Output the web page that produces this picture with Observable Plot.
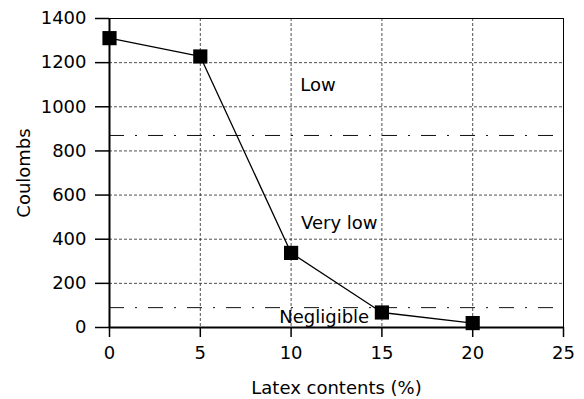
<!DOCTYPE html>
<html><head>
<meta charset="utf-8">
<script src="https://cdn.jsdelivr.net/npm/d3@7"></script>
<script src="https://cdn.jsdelivr.net/npm/@observablehq/plot@0.6"></script>
<style>
body{margin:0;background:#fff}
svg{font-family:"DejaVu Sans",sans-serif}
</style>
</head><body><div id="chart"></div>
<script>
const latex = [0, 5, 10, 15, 20];
const coulombs = [1311, 1228, 338, 68, 20];
const thresholds = [870, 90];
const zoneLabels = ["Low", "Very low", "Negligible"];
const zoneX = [10.5, 10.55, 9.35];
const zoneY = [1096, 472, 47];
const xTicks = [0, 5, 10, 15, 20, 25];
const yTicks = [0, 200, 400, 600, 800, 1000, 1200, 1400];

const pts = latex.map((x, i) => ({x, y: coulombs[i]}));
const zones = zoneLabels.map((t, i) => ({t, x: zoneX[i], y: zoneY[i]}));

const chart = Plot.plot({
  width: 584, height: 399,
  marginLeft: 109, marginRight: 21, marginTop: 18, marginBottom: 72,
  style: {fontSize: "18px", fontFamily: "DejaVu Sans, sans-serif", color: "#000", background: "#fff"},
  x: {domain: [0, 25]},
  y: {domain: [0, 1400]},
  marks: [
    Plot.gridX(xTicks, {stroke: "#222", strokeOpacity: 1, strokeWidth: 0.8, strokeDasharray: "3,2"}),
    Plot.gridY(yTicks, {stroke: "#222", strokeOpacity: 1, strokeWidth: 0.8, strokeDasharray: "3,2"}),
    Plot.ruleY(thresholds, {stroke: "#111", strokeWidth: 1, strokeDasharray: "15,11,2,11"}),
    Plot.frame({stroke: "#000", strokeWidth: 1}),
    Plot.ruleX([0], {stroke: "#000", strokeWidth: 2}),
    Plot.ruleY([0], {stroke: "#000", strokeWidth: 2}),
    Plot.axisX({ticks: xTicks, tickFormat: "d", tickSize: 10, tickPadding: 9, strokeWidth: 1.5, fontSize: 18,
      label: "Latex contents (%)", labelAnchor: "center", labelArrow: "none", labelOffset: 66}),
    Plot.axisY({ticks: yTicks, tickFormat: "d", tickSize: 14, tickPadding: 9, strokeWidth: 1.5, fontSize: 18,
      label: "Coulombs", labelAnchor: "center", labelArrow: "none", labelOffset: 92}),
    Plot.line(pts, {x: "x", y: "y", stroke: "#000", strokeWidth: 1.3}),
    Plot.dot(pts, {x: "x", y: "y", symbol: "square", r: 8, fill: "#000", stroke: "none"}),
    Plot.text(zones, {x: "x", y: "y", text: "t", textAnchor: "start", fontSize: 18, fill: "#000"})
  ]
});
document.getElementById("chart").append(chart);
</script>
</body></html>
